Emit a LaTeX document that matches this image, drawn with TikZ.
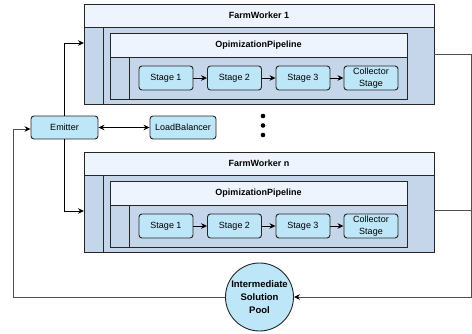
\documentclass[tikz,border=0pt]{standalone}
\usepackage{fontspec}
\setmainfont{Liberation Sans}
\usetikzlibrary{arrows.meta}

\definecolor{band}{HTML}{C5D5EA}
\definecolor{head}{HTML}{EEF4FD}
\definecolor{stagefill}{HTML}{BDE6F8}
\definecolor{edge}{HTML}{262626}
\definecolor{wire}{HTML}{505050}

\tikzset{
  frame/.style={draw=edge, fill=band, line width=1pt, anchor=north west,
                inner sep=0pt, outer sep=0pt},
  headband/.style={draw=edge, fill=head, line width=1pt, anchor=north west,
                   inner sep=0pt, outer sep=0pt, font=\fontsize{9}{12}\selectfont\bfseries},
  divider/.style={draw=edge, line width=1pt},
  stagebox/.style={draw=edge, fill=stagefill, rounded corners=3pt, line width=0.9pt,
                   minimum width=54pt, minimum height=24pt, inner sep=0pt, align=center},
  procbox/.style={stagebox, minimum width=67pt, minimum height=23pt},
  flow/.style={-{Stealth[length=6pt,width=5.5pt,black]}, line width=0.9pt, draw=black},
  wireline/.style={draw=wire, line width=1pt},
  feed/.style={wireline, -{Stealth[length=6pt,width=5.5pt,black]}},
  dotmark/.style={circle, fill=black, inner sep=0pt, minimum size=4.6pt}
}

% One farm worker with its nested optimisation pipeline, shifted down by #2
\newcommand\drawworker[3]{%
  \node[frame, minimum width=350pt, minimum height=100pt] (#1) at (84,#2+4) {};
  \node[headband, minimum width=350pt, minimum height=23pt] (#1-head) at (84,#2+4) {#3};
  \draw[divider] (103,#2+27) -- (103,#2+104);
  \node[frame, minimum width=297pt, minimum height=66pt] (#1-pipe) at (110,#2+33) {};
  \node[headband, minimum width=297pt, minimum height=24pt] (#1-pipehead) at (110,#2+33) {OpimizationPipeline};
  \draw[divider] (129,#2+57) -- (129,#2+99);
  \node[stagebox] (#1-s1) at (166,#2+78) {Stage 1};
  \node[stagebox] (#1-s2) at (234.5,#2+78) {Stage 2};
  \node[stagebox] (#1-s3) at (303,#2+78) {Stage 3};
  \node[stagebox] (#1-s4) at (371,#2+78) {Collector\\Stage};
  \draw[flow] (#1-s1) -- (#1-s2);
  \draw[flow] (#1-s2) -- (#1-s3);
  \draw[flow] (#1-s3) -- (#1-s4);
}

\begin{document}
\begin{tikzpicture}[x=1pt, y=-1pt, font=\fontsize{9}{12.5}\selectfont]
\useasboundingbox (0,0) rectangle (472,333);

\drawworker{fw1}{0}{FarmWorker 1}
\drawworker{fwn}{148}{FarmWorker n}

% emitter and load balancer
\node[procbox] (em) at (64.5,127.5) {Emitter};
\node[procbox, minimum width=66pt] (lb) at (183,127.5) {LoadBalancer};
\draw[{Stealth[length=6pt,width=5.5pt]}-{Stealth[length=6pt,width=5.5pt]}, line width=0.9pt] (em) -- (lb);

% dispatch to the workers
\draw[flow] (em.north) |- ([yshift=-39pt]fw1.north west);
\draw[flow] (em.south) |- ([yshift=-59pt]fwn.north west);

% vertical ellipsis between the workers
\node[dotmark] (d1) at (263,116) {};
\node[dotmark] (d2) at (263,125.5) {};
\node[dotmark] (d3) at (263,135) {};

% shared solution pool
\node[circle, draw=edge, fill=stagefill, line width=0.9pt, minimum size=68pt, inner sep=0pt,
      align=center, font=\fontsize{9.5}{12.7}\selectfont\bfseries] (pool) at (259.5,297)
      {Intermediate\\Solution\\Pool};

% results flow back into the pool
\coordinate (rbus) at (471,297);
\draw[feed] (fw1.east) -| (rbus) -- (pool.east);
\coordinate (fwnout) at ([yshift=-58pt]fwn.north east);
\draw[wireline] (fwnout) -- (fwnout -| rbus);

% pool feeds the emitter again
\coordinate (lbus) at (13,297);
\coordinate (emin) at ([yshift=-1.5pt]em.west);
\draw[feed] (pool.west) -- (lbus) |- (emin);
\end{tikzpicture}
\end{document}
